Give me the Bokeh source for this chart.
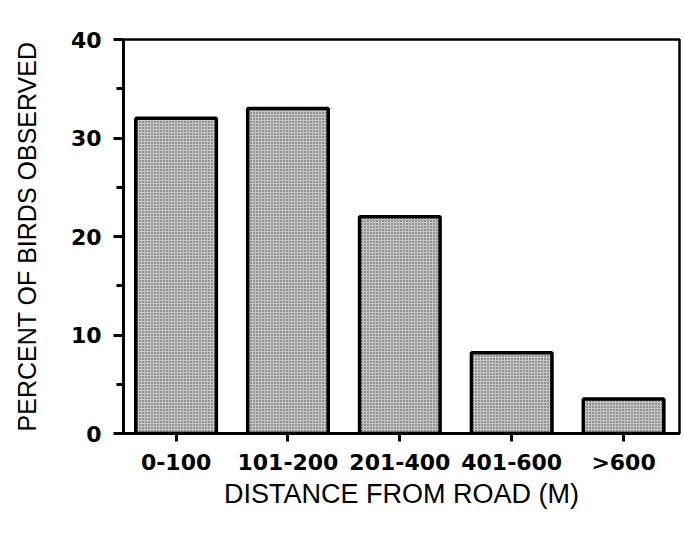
from bokeh.plotting import figure
from bokeh.models import Range1d, FixedTicker, ColumnDataSource
from bokeh.embed import file_html
from bokeh.resources import INLINE

categories = ["0-100", "101-200", "201-400", "401-600", ">600"]
percent = [32, 33, 22, 8.2, 3.5]
y_ticks = [0, 10, 20, 30, 40]
y_minor = [5, 15, 25, 35]

xpos = list(range(1, len(categories) + 1))
src = ColumnDataSource(dict(x=xpos, top=percent))

p = figure(width=684, height=535, output_backend="svg", toolbar_location=None,
           x_range=Range1d(0.53, 5.5), y_range=Range1d(0, 40),
           min_border_left=123, min_border_right=5, min_border_top=39, min_border_bottom=102)

p.vbar(x="x", top="top", bottom=0, width=0.72, source=src,
       fill_color="#c6c6c6", line_color="black", line_width=3.5,
       hatch_pattern="dot", hatch_scale=3, hatch_color="#444444", hatch_weight=1)

p.grid.visible = False
p.outline_line_color = "black"
p.outline_line_width = 2.5
p.background_fill_color = "white"
p.border_fill_color = "white"

p.xaxis.ticker = FixedTicker(ticks=xpos)
p.xaxis.major_label_overrides = {i: c for i, c in zip(xpos, categories)}
p.xaxis.minor_tick_line_color = None
p.xaxis.major_tick_in = 0
p.xaxis.major_tick_out = 8
p.xaxis.major_tick_line_width = 3
p.xaxis.axis_line_width = 3
p.xaxis.major_label_standoff = 8
p.xaxis.axis_label = "DISTANCE FROM ROAD (M)"
p.xaxis.axis_label_standoff = 1

p.yaxis.ticker = FixedTicker(ticks=y_ticks, minor_ticks=y_minor)
p.yaxis.major_tick_in = 0
p.yaxis.major_tick_out = 10
p.yaxis.minor_tick_in = 0
p.yaxis.minor_tick_out = 7
p.yaxis.major_tick_line_width = 3
p.yaxis.minor_tick_line_width = 3
p.yaxis.axis_line_width = 3
p.yaxis.major_label_standoff = 12
p.yaxis.axis_label = "PERCENT OF BIRDS OBSERVED"
p.yaxis.axis_label_standoff = 27

for ax in (p.xaxis, p.yaxis):
    ax.major_label_text_font = "DejaVu Sans"
    ax.major_label_text_font_style = "bold"
    ax.major_label_text_font_size = "22px"
    ax.major_label_text_color = "black"
    ax.axis_label_text_font = "Liberation Sans"
    ax.axis_label_text_font_style = "normal"
    ax.axis_label_text_color = "black"
    ax.axis_line_color = "black"
    ax.major_tick_line_color = "black"

p.xaxis.axis_label_text_font_size = "27px"
p.yaxis.axis_label_text_font_size = "25px"
p.yaxis.minor_tick_line_color = "black"

open("out.html", "w").write(file_html(p, INLINE))
